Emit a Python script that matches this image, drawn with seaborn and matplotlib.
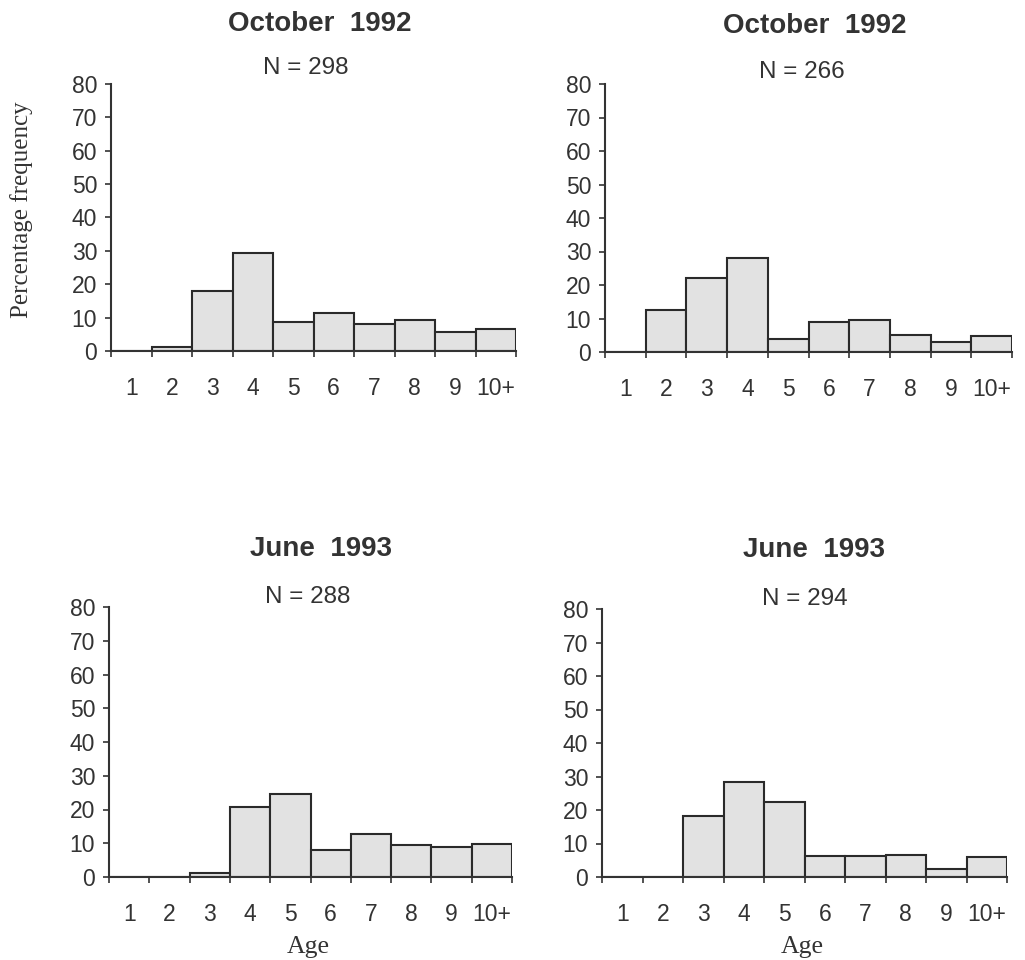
import matplotlib
matplotlib.use("Agg")
import matplotlib.pyplot as plt
import seaborn as sns

# Age-class frequencies (%) for the four samples
ages = ["1", "2", "3", "4", "5", "6", "7", "8", "9", "10+"]
oct92_left = [0, 1.2, 18.0, 29.5, 8.6, 11.4, 8.2, 9.2, 5.6, 6.6]
oct92_right = [0, 12.4, 22.0, 28.1, 3.9, 9.0, 9.5, 5.0, 3.1, 4.9]
jun93_left = [0, 0, 1.2, 20.6, 24.7, 8.1, 12.8, 9.5, 8.8, 9.9]
jun93_right = [0, 0, 18.1, 28.5, 22.4, 6.2, 6.2, 6.7, 2.4, 6.0]
titles = ["October  1992", "October  1992", "June  1993", "June  1993"]
sample_sizes = [298, 266, 288, 294]
y_ticks = [0, 10, 20, 30, 40, 50, 60, 70, 80]

series = [oct92_left, oct92_right, jun93_left, jun93_right]

sns.set_style("ticks")
plt.rcParams["font.family"] = ["Liberation Sans", "DejaVu Sans"]
INK = "#333333"
plt.rcParams["text.color"] = INK
plt.rcParams["axes.edgecolor"] = INK
plt.rcParams["xtick.color"] = INK
plt.rcParams["ytick.color"] = INK

W, H = 1025, 960
fig = plt.figure(figsize=(W / 100, H / 100), dpi=100)


def fx(px):
    return px / W


def fy(py):
    return 1 - py / H


# panel boxes in pixels: left, top, right, bottom
boxes = [(111, 84, 516, 351), (605, 84, 1012, 352),
         (109, 607, 512, 877), (602, 609, 1007, 877)]
title_pos = [(320, 31), (815, 33), (321, 556), (814, 557)]
n_pos = [(306, 74), (802, 78), (308, 603), (805, 605)]

for i, vals in enumerate(series):
    l, t, r, b = boxes[i]
    ax = fig.add_axes([fx(l), fy(b), fx(r - l), (b - t) / H])
    sns.barplot(x=ages, y=vals, color="#e2e2e2", saturation=1, width=1,
                edgecolor="#2a2a2a", linewidth=1.5, ax=ax)
    ax.set_xlim(-0.5, 9.5)
    ax.set_ylim(0, 80)
    ax.set_yticks(y_ticks)
    ax.set_yticklabels([str(v) for v in y_ticks])
    ax.set_xlabel("")
    ax.set_ylabel("")
    sns.despine(ax=ax)
    for s in ("left", "bottom"):
        ax.spines[s].set_linewidth(1.5)
    ax.tick_params(axis="y", length=4, width=1.2, pad=6, labelsize=16.5)
    ax.tick_params(axis="x", which="major", length=0, pad=18.5, labelsize=16.5)
    ax.set_xticks([k - 0.5 for k in range(11)], minor=True)
    ax.tick_params(axis="x", which="minor", length=4, width=1.2, direction="out")
    ax.set_facecolor("white")

    tx, ty = title_pos[i]
    fig.text(fx(tx), fy(ty), titles[i], ha="center", va="baseline",
             fontsize=20, fontweight="bold")
    nx, ny = n_pos[i]
    fig.text(fx(nx), fy(ny), f"N = {sample_sizes[i]}", ha="center",
             va="baseline", fontsize=17.5)

fig.text(fx(22), fy(210), "Percentage frequency", rotation=90, ha="center",
         va="center", fontsize=18, family=["Liberation Serif", "DejaVu Serif"])
for x in (308, 802):
    fig.text(fx(x), fy(953), "Age", ha="center", va="baseline",
             fontsize=18.5, family=["Liberation Serif", "DejaVu Serif"])

fig.savefig("out.png", dpi=100, facecolor="white")
